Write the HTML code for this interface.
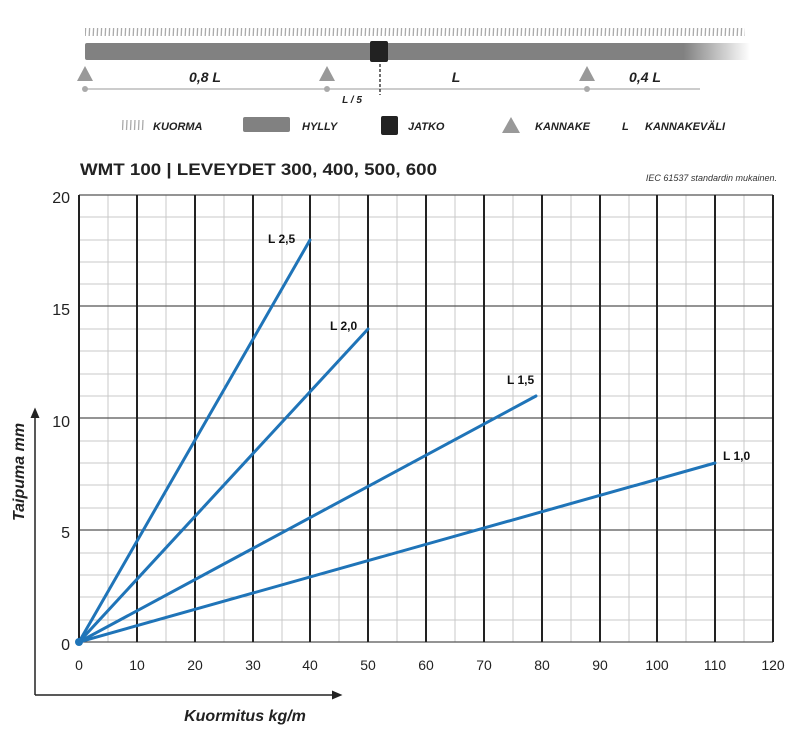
<!DOCTYPE html>
<html><head><meta charset="utf-8"><style>
body{margin:0;background:#fff;}
svg{display:block;font-family:"Liberation Sans",sans-serif;}
</style></head><body>
<svg width="800" height="736" viewBox="0 0 800 736" xmlns="http://www.w3.org/2000/svg">
<defs>
<pattern id="hatch" x="0" y="0" width="4" height="40" patternUnits="userSpaceOnUse">
<line x1="1" y1="40" x2="3" y2="0" stroke="#aaa" stroke-width="1.3"/>
</pattern>
<linearGradient id="fade" x1="0" x2="1">
<stop offset="0" stop-color="#818181"/><stop offset="0.9" stop-color="#818181"/><stop offset="1" stop-color="#818181" stop-opacity="0"/>
</linearGradient>
<marker id="ar" markerWidth="8" markerHeight="8" refX="4" refY="4" orient="auto"><path d="M0,1 L7,4 L0,7 z" fill="#222"/></marker>
</defs>
<rect x="85" y="28" width="660" height="8" fill="url(#hatch)"/>
<rect x="85" y="43" width="665" height="17" rx="2" fill="url(#fade)"/>
<rect x="370" y="41" width="18" height="21" rx="2" fill="#222"/>
<g fill="#999">
<polygon points="85,66 93,81 77,81"/><polygon points="327,66 335,81 319,81"/><polygon points="587,66 595,81 579,81"/>
</g>
<line x1="85" y1="89" x2="700" y2="89" stroke="#bbb" stroke-width="1.5"/>
<g fill="#aaa"><circle cx="85" cy="89" r="3"/><circle cx="327" cy="89" r="3"/><circle cx="587" cy="89" r="3"/></g>
<line x1="380" y1="64" x2="380" y2="95" stroke="#222" stroke-width="1.3" stroke-dasharray="3,2"/>
<g font-style="italic" font-weight="bold" fill="#222">
<text x="205" y="82" font-size="14" text-anchor="middle">0,8 L</text>
<text x="456" y="82" font-size="14" text-anchor="middle">L</text>
<text x="645" y="82" font-size="14" text-anchor="middle">0,4 L</text>
<text x="352" y="103" font-size="10" text-anchor="middle">L / 5</text>
<text x="153" y="130" font-size="11">KUORMA</text>
<text x="302" y="130" font-size="11">HYLLY</text>
<text x="408" y="130" font-size="11">JATKO</text>
<text x="535" y="130" font-size="11">KANNAKE</text>
<text x="622" y="130" font-size="11">L</text>
<text x="645" y="130" font-size="11">KANNAKEVÄLI</text>
</g>
<rect x="122" y="120" width="22" height="10" fill="url(#hatch)"/>
<rect x="243" y="117" width="47" height="15" rx="2" fill="#818181"/>
<rect x="381" y="116" width="17" height="19" rx="2" fill="#222"/>
<polygon points="511,117 520,133 502,133" fill="#999"/>
<text x="80" y="175" font-size="17" font-weight="bold" fill="#222" textLength="357" lengthAdjust="spacingAndGlyphs">WMT 100  | LEVEYDET 300, 400, 500, 600</text>
<text x="777" y="181" font-size="9" font-style="italic" fill="#333" text-anchor="end">IEC 61537 standardin mukainen.</text>
<g stroke="#c8c8c8" stroke-width="1">
<line x1="108" y1="195" x2="108" y2="642"/><line x1="166" y1="195" x2="166" y2="642"/><line x1="224" y1="195" x2="224" y2="642"/><line x1="282" y1="195" x2="282" y2="642"/><line x1="339" y1="195" x2="339" y2="642"/><line x1="397" y1="195" x2="397" y2="642"/><line x1="455" y1="195" x2="455" y2="642"/><line x1="513" y1="195" x2="513" y2="642"/><line x1="571" y1="195" x2="571" y2="642"/><line x1="629" y1="195" x2="629" y2="642"/><line x1="686" y1="195" x2="686" y2="642"/><line x1="744" y1="195" x2="744" y2="642"/>
<line x1="79" y1="217" x2="773" y2="217"/><line x1="79" y1="240" x2="773" y2="240"/><line x1="79" y1="262" x2="773" y2="262"/><line x1="79" y1="284" x2="773" y2="284"/>
<line x1="79" y1="329" x2="773" y2="329"/><line x1="79" y1="351" x2="773" y2="351"/><line x1="79" y1="374" x2="773" y2="374"/><line x1="79" y1="396" x2="773" y2="396"/>
<line x1="79" y1="441" x2="773" y2="441"/><line x1="79" y1="463" x2="773" y2="463"/><line x1="79" y1="485" x2="773" y2="485"/><line x1="79" y1="508" x2="773" y2="508"/>
<line x1="79" y1="553" x2="773" y2="553"/><line x1="79" y1="575" x2="773" y2="575"/><line x1="79" y1="597" x2="773" y2="597"/><line x1="79" y1="620" x2="773" y2="620"/>
</g>
<g stroke="#555" stroke-width="1.2">
<line x1="79" y1="195" x2="773" y2="195"/><line x1="79" y1="306" x2="773" y2="306"/><line x1="79" y1="418" x2="773" y2="418"/><line x1="79" y1="530" x2="773" y2="530"/><line x1="79" y1="642" x2="773" y2="642"/>
</g>
<g stroke="#222" stroke-width="2">
<line x1="79" y1="195" x2="79" y2="642"/><line x1="137" y1="195" x2="137" y2="642"/><line x1="195" y1="195" x2="195" y2="642"/><line x1="253" y1="195" x2="253" y2="642"/><line x1="310" y1="195" x2="310" y2="642"/><line x1="368" y1="195" x2="368" y2="642"/><line x1="426" y1="195" x2="426" y2="642"/><line x1="484" y1="195" x2="484" y2="642"/><line x1="542" y1="195" x2="542" y2="642"/><line x1="600" y1="195" x2="600" y2="642"/><line x1="657" y1="195" x2="657" y2="642"/><line x1="715" y1="195" x2="715" y2="642"/><line x1="773" y1="195" x2="773" y2="642"/>
</g>
<g stroke="#1f74b8" stroke-width="3" stroke-linecap="round">
<line x1="79" y1="642" x2="310" y2="240"/>
<line x1="79" y1="642" x2="368" y2="329"/>
<line x1="79" y1="642" x2="536" y2="396"/>
<line x1="79" y1="642" x2="715" y2="463"/>
</g>
<circle cx="79" cy="642" r="4" fill="#1f74b8"/>
<g font-weight="bold" font-size="12" fill="#111">
<text x="268" y="243">L 2,5</text>
<text x="330" y="330">L 2,0</text>
<text x="507" y="384">L 1,5</text>
<text x="723" y="460">L 1,0</text>
</g>
<g font-size="16" fill="#222" text-anchor="end">
<text x="70" y="203">20</text><text x="70" y="315">15</text><text x="70" y="427">10</text><text x="70" y="538">5</text><text x="70" y="650">0</text>
</g>
<g font-size="14" fill="#222" text-anchor="middle">
<text x="79" y="670">0</text><text x="137" y="670">10</text><text x="195" y="670">20</text><text x="253" y="670">30</text><text x="310" y="670">40</text><text x="368" y="670">50</text><text x="426" y="670">60</text><text x="484" y="670">70</text><text x="542" y="670">80</text><text x="600" y="670">90</text><text x="657" y="670">100</text><text x="715" y="670">110</text><text x="773" y="670">120</text>
</g>
<line x1="35" y1="695" x2="35" y2="412" stroke="#222" stroke-width="1.5" marker-end="url(#ar)"/>
<line x1="35" y1="695" x2="338" y2="695" stroke="#222" stroke-width="1.5" marker-end="url(#ar)"/>
<text x="245" y="721" font-size="16" font-weight="bold" font-style="italic" fill="#222" text-anchor="middle">Kuormitus kg/m</text>
<text transform="translate(24,472) rotate(-90)" font-size="16" font-weight="bold" font-style="italic" fill="#222" text-anchor="middle">Taipuma mm</text>
</svg>
</body></html>
